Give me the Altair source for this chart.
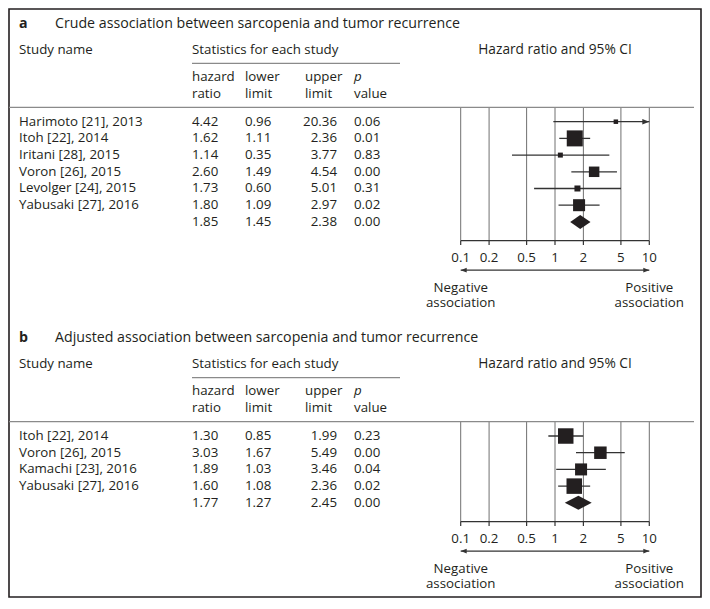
import altair as alt
import pandas as pd

# ---------------- data ----------------
panel_letters = ["a", "b"]
panel_titles = [
    "Crude association between sarcopenia and tumor recurrence",
    "Adjusted association between sarcopenia and tumor recurrence",
]

studies_a = ["Harimoto [21], 2013", "Itoh [22], 2014", "Iritani [28], 2015",
             "Voron [26], 2015", "Levolger [24], 2015", "Yabusaki [27], 2016"]
hr_a = [4.42, 1.62, 1.14, 2.60, 1.73, 1.80]
lo_a = [0.96, 1.11, 0.35, 1.49, 0.60, 1.09]
up_a = [20.36, 2.36, 3.77, 4.54, 5.01, 2.97]
p_a = [0.06, 0.01, 0.83, 0.00, 0.31, 0.02]
weight_a = [3.4, 43.3, 4.2, 18.6, 6.1, 24.4]
pooled_a = [1.85, 1.45, 2.38, 0.00]  # hr, lower, upper, p

studies_b = ["Itoh [22], 2014", "Voron [26], 2015", "Kamachi [23], 2016", "Yabusaki [27], 2016"]
hr_b = [1.30, 3.03, 1.89, 1.60]
lo_b = [0.85, 1.67, 1.03, 1.08]
up_b = [1.99, 5.49, 3.46, 2.36]
p_b = [0.23, 0.00, 0.04, 0.02]
weight_b = [30.7, 20.0, 18.5, 30.8]
pooled_b = [1.77, 1.27, 2.45, 0.00]

tick_values = [0.1, 0.2, 0.5, 1, 2, 5, 10]
tick_labels = ["0.1", "0.2", "0.5", "1", "2", "5", "10"]
end_labels = ["Negative\nassociation", "Positive\nassociation"]

# ---------------- layout ----------------
W, H = 692, 588
UNIT = 16.7
FONT = "Open Sans"
FS = 13.3
FS_TITLE = 14.2
INK = "#231f20"
LINE = "#333333"
GRID = "#707070"
SEPC = "#8a8a8a"

X_NAME, X_TITLE = 10, 46
X_HR, X_LO, X_UP_HEAD, X_UP_R, X_P = 183, 236, 296, 328, 345
X_FOREST = [451.7, 640.3]
X_HEAD_CI = (X_FOREST[0] + X_FOREST[1]) / 2
X_UNDER = (183, 391)
X_SEP = (0, 685)

panel_top = [0.898, 19.72]
OFF_HEADER, OFF_UNDER, OFF_H1, OFF_H2, OFF_SEP, OFF_ROW0 = 1.557, 2.353, 3.174, 4.192, 4.988, 5.850
AX_AXIS, AX_TICK, AX_LAB, AX_ARROW, AX_ENDTXT = 1.126, 0.26, 1.018, 1.766, 2.82
END_LINE_H = 15.3
DIAMOND_H = 0.42

xscale = alt.Scale(type="log", domain=[tick_values[0], tick_values[-1]], range=X_FOREST)
yscale = alt.Scale(domain=[0, H / UNIT], range=[0, H], zero=False, nice=False)


def Y(f="y"):
    return alt.Y(f"{f}:Q", scale=yscale, axis=None)


def X(f):
    return alt.X(f"{f}:Q", scale=xscale, axis=None)


# ---------------- tables ----------------
panels = [
    (studies_a, hr_a, lo_a, up_a, p_a, weight_a, pooled_a),
    (studies_b, hr_b, lo_b, up_b, p_b, weight_b, pooled_b),
]
xmax = tick_values[-1]
rows, pooled_rows, diamonds, heads, panel_geo = [], [], [], [], []
for pi, (names, hr, lo, up, pv, w, pooled) in enumerate(panels):
    top = panel_top[pi]
    row0 = top + OFF_ROW0
    n = len(names)
    for i in range(n):
        rows.append(dict(panel=pi, y=row0 + i, name=names[i], hr=hr[i], lo=lo[i], up=up[i],
                         up_draw=min(up[i], xmax), clipped=up[i] > xmax, p=pv[i], w=w[i]))
    yp = row0 + n
    pooled_rows.append(dict(panel=pi, y=yp, name="", hr=pooled[0], lo=pooled[1], up=pooled[2], p=pooled[3]))
    diamonds += [
        dict(panel=pi, x=pooled[1], ya=yp, yb=yp),
        dict(panel=pi, x=pooled[0], ya=yp - DIAMOND_H, yb=yp + DIAMOND_H),
        dict(panel=pi, x=pooled[2], ya=yp, yb=yp),
    ]
    axis_y = yp + AX_AXIS
    panel_geo.append(dict(panel=pi, sep=top + OFF_SEP, under=top + OFF_UNDER, axis=axis_y,
                          tick_end=axis_y + AX_TICK, lab=axis_y + AX_LAB, arrow=axis_y + AX_ARROW,
                          endtxt=axis_y + AX_ENDTXT,
                          x0=tick_values[0], x1=tick_values[-1]))
    heads += [
        dict(col="letter", y=top, text=panel_letters[pi]),
        dict(col="title", y=top, text=panel_titles[pi]),
        dict(col="name", y=top + OFF_HEADER, text="Study name"),
        dict(col="hr", y=top + OFF_HEADER, text="Statistics for each study"),
        dict(col="ci", y=top + OFF_HEADER, text="Hazard ratio and 95% CI"),
        dict(col="hr", y=top + OFF_H1, text="hazard"),
        dict(col="hr", y=top + OFF_H2, text="ratio"),
        dict(col="lo", y=top + OFF_H1, text="lower"),
        dict(col="lo", y=top + OFF_H2, text="limit"),
        dict(col="up", y=top + OFF_H1, text="upper"),
        dict(col="up", y=top + OFF_H2, text="limit"),
        dict(col="pi", y=top + OFF_H1, text="p"),
        dict(col="p", y=top + OFF_H2, text="value"),
    ]

df_rows = pd.DataFrame(rows)
df_pool = pd.DataFrame(pooled_rows)
df_all = pd.concat([df_rows, df_pool], ignore_index=True)
df_dia = pd.DataFrame(diamonds)
df_head = pd.DataFrame(heads)
df_geo = pd.DataFrame(panel_geo)

grid = []
for g in panel_geo:
    for t, lab in zip(tick_values, tick_labels):
        grid.append(dict(panel=g["panel"], x=t, label=lab, sep=g["sep"], axis=g["axis"],
                         tick_end=g["tick_end"], lab=g["lab"]))
df_grid = pd.DataFrame(grid)

assoc = []
for g in panel_geo:
    assoc += [
        dict(x=tick_values[0], y=g["endtxt"], text=end_labels[0]),
        dict(x=tick_values[-1], y=g["endtxt"], text=end_labels[1]),
    ]
df_assoc = pd.DataFrame(assoc)

RIGHT_TRI = "M0,0L-2,-0.8L-2,0.8Z"
LEFT_TRI = "M0,0L2,-0.8L2,0.8Z"

txt = dict(font=FONT, fontSize=FS, color=INK, baseline="middle")

layers = []

# gridlines, axis, ticks
layers.append(alt.Chart(df_grid).mark_rule(color=GRID, strokeWidth=1).encode(
    x=X("x"), y=Y("sep"), y2=alt.Y2("axis:Q")))
layers.append(alt.Chart(df_geo).mark_rule(color=LINE, strokeWidth=1.2).encode(
    x=X("x0"), x2=alt.X2("x1:Q"), y=Y("axis")))
layers.append(alt.Chart(df_grid).mark_rule(color=LINE, strokeWidth=1.2).encode(
    x=X("x"), y=Y("axis"), y2=alt.Y2("tick_end:Q")))
layers.append(alt.Chart(df_grid).mark_text(align="center", **txt).encode(
    x=X("x"), y=Y("lab"), text="label:N"))
# double arrow
layers.append(alt.Chart(df_geo).mark_rule(color=LINE, strokeWidth=1.2).encode(
    x=X("x0"), x2=alt.X2("x1:Q"), y=Y("arrow")))
layers.append(alt.Chart(df_geo).mark_point(shape=RIGHT_TRI, filled=True, size=36, color=LINE, opacity=1).encode(
    x=X("x1"), y=Y("arrow")))
layers.append(alt.Chart(df_geo).mark_point(shape=LEFT_TRI, filled=True, size=36, color=LINE, opacity=1).encode(
    x=X("x0"), y=Y("arrow")))
layers.append(alt.Chart(df_assoc).mark_text(align="center", lineBreak="\n", lineHeight=END_LINE_H, **txt).encode(
    x=X("x"), y=Y("y"), text="text:N"))

# separator lines
layers.append(alt.Chart(df_geo).mark_rule(color=SEPC, strokeWidth=1.2).encode(
    x=alt.value(X_SEP[0]), x2=alt.value(X_SEP[1]), y=Y("sep")))
layers.append(alt.Chart(df_geo).mark_rule(color=SEPC, strokeWidth=1.2).encode(
    x=alt.value(X_UNDER[0]), x2=alt.value(X_UNDER[1]), y=Y("under")))

# CI lines
layers.append(alt.Chart(df_rows).mark_rule(color=LINE, strokeWidth=1.3).encode(
    x=X("lo"), x2=alt.X2("up_draw:Q"), y=Y()))
layers.append(alt.Chart(df_rows[df_rows["clipped"]]).mark_point(
    shape=RIGHT_TRI, filled=True, size=49, color=LINE, opacity=1).encode(x=X("up_draw"), y=Y()))

# squares (weights -> area), one size scale per panel
for pi, kmax in [(0, 591.5), (1, 780.0)]:
    layers.append(alt.Chart(df_rows[df_rows["panel"] == pi]).mark_square(color=INK, opacity=1).encode(
        x=X("hr"), y=Y(),
        size=alt.Size("w:Q", scale=alt.Scale(domain=[0, 100], range=[0, kmax]), legend=None)))

# pooled diamonds
layers.append(alt.Chart(df_dia).mark_area(color=INK, orient="vertical", opacity=1).encode(
    x=X("x"), y=Y("ya"), y2=alt.Y2("yb:Q"), detail="panel:N"))

# table text
layers.append(alt.Chart(df_rows).mark_text(align="left", **txt).encode(
    x=alt.value(X_NAME), y=Y(), text="name:N"))
layers.append(alt.Chart(df_all).mark_text(align="left", **txt).encode(
    x=alt.value(X_HR), y=Y(), text=alt.Text("hr:Q", format=".2f")))
layers.append(alt.Chart(df_all).mark_text(align="left", **txt).encode(
    x=alt.value(X_LO), y=Y(), text=alt.Text("lo:Q", format=".2f")))
layers.append(alt.Chart(df_all).mark_text(align="right", **txt).encode(
    x=alt.value(X_UP_R), y=Y(), text=alt.Text("up:Q", format=".2f")))
layers.append(alt.Chart(df_all).mark_text(align="left", **txt).encode(
    x=alt.value(X_P), y=Y(), text=alt.Text("p:Q", format=".2f")))

# headers
txt_title = dict(txt, fontSize=FS_TITLE)
head_cols = [
    ("letter", X_NAME, "left", dict(txt_title, fontWeight="bold")),
    ("title", X_TITLE, "left", txt_title),
    ("name", X_NAME, "left", txt),
    ("hr", X_HR, "left", txt),
    ("lo", X_LO, "left", txt),
    ("up", X_UP_HEAD, "left", txt),
    ("pi", X_P, "left", dict(txt, fontStyle="italic")),
    ("p", X_P, "left", txt),
    ("ci", X_HEAD_CI, "center", dict(txt, fontSize=13.7)),
]
for col, xpx, al, style in head_cols:
    layers.append(alt.Chart(df_head[df_head["col"] == col]).mark_text(align=al, **style).encode(
        x=alt.value(xpx), y=Y(), text="text:N"))

chart = alt.layer(*layers).resolve_scale(size="independent").properties(
    width=W, height=H, padding=1, background="white",
    autosize=alt.AutoSizeParams(type="none"),
).configure_view(stroke=INK, strokeWidth=1.6)

chart.save("out.html", embed_options={"renderer": "svg", "actions": False})
